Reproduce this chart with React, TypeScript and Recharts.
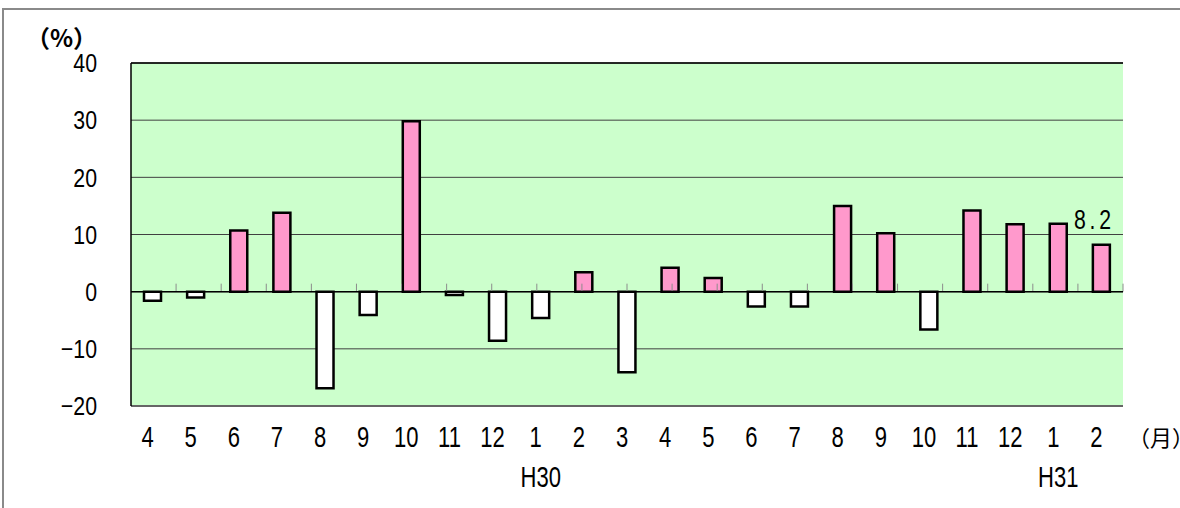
import {
  BarChart,
  Bar,
  XAxis,
  YAxis,
  CartesianGrid,
  ReferenceLine,
  Cell,
  LabelList,
} from 'recharts';

// month labels along the bottom, with the era under each January
const months = ['4', '5', '6', '7', '8', '9', '10', '11', '12', '1', '2', '3', '4', '5', '6', '7', '8', '9', '10', '11', '12', '1', '2'];
const eras = ['', '', '', '', '', '', '', '', '', 'H30', '', '', '', '', '', '', '', '', '', '', '', 'H31', ''];

// year-on-year change (%)
const rates = [-1.6, -1.0, 10.7, 13.8, -16.9, -4.1, 29.8, -0.6, -8.6, -4.6, 3.4, -14.1, 4.2, 2.4, -2.6, -2.6, 15.0, 10.2, -6.6, 14.2, 11.8, 11.9, 8.2];
const callouts = [null, null, null, null, null, null, null, null, null, null, null, null, null, null, null, null, null, null, null, null, null, null, '8.2'];

const yTicks = [-20, -10, 0, 10, 20, 30, 40];

const data = months.map((m, i) => ({ month: m, rate: rates[i], label: callouts[i] }));
// small marks between months on the zero line
const boundaries = months.slice(1).map((_, i) => i + 1);

const NUM_FONT = '"Liberation Sans", Arial, sans-serif';
const JP_FONT = '"Noto Sans CJK JP", sans-serif';

// tall, narrow digits like the original gothic font
function Narrow({ x, y, anchor = 'middle', size = 28, squeeze = 0.76, spacing = 0, children }: any) {
  return (
    <text
      transform={`translate(${x},${y}) scale(${squeeze},1)`}
      textAnchor={anchor}
      dominantBaseline="central"
      fontFamily={NUM_FONT}
      fontSize={size}
      letterSpacing={spacing}
      fill="#000"
    >
      {children}
    </text>
  );
}

function MonthTick(props: any) {
  const { x, y, payload, index } = props;
  const era = eras[index];
  return (
    <g>
      <Narrow x={x - 5} y={y + 31} size={29}>
        {payload.value}
      </Narrow>
      {era && (
        <Narrow x={x} y={y + 71} size={29}>
          {era}
        </Narrow>
      )}
    </g>
  );
}

function ValueTick(props: any) {
  const { x, y, payload } = props;
  return (
    <Narrow x={x} y={y} anchor="end" size={26} squeeze={0.82}>
      {String(payload.value).replace('-', '−')}
    </Narrow>
  );
}

function Callout(props: any) {
  const { x, y, width, value } = props;
  if (value == null) return null;
  return (
    <Narrow x={x + width / 2 - 7} y={y - 26} size={28} spacing={5}>
      {value}
    </Narrow>
  );
}

export default function App() {
  return (
    <div style={{ position: 'absolute', left: 0, top: 0, width: 1180, height: 508, overflow: 'hidden', background: '#fff' }}>
      <div
        style={{
          position: 'absolute',
          left: 2,
          top: 8,
          width: 1300,
          height: 600,
          border: '2px solid #8a8a8a',
        }}
      />
      <div
        style={{
          position: 'absolute',
          left: 26,
          top: 27,
          fontFamily: JP_FONT,
          fontSize: 24,
          fontWeight: 'bold',
          lineHeight: '20px',
        }}
      >
        （%）
      </div>
      <div style={{ position: 'absolute', left: 1128, top: 425, fontFamily: JP_FONT, fontSize: 22, lineHeight: '22px' }}>
        （月）
      </div>
      <BarChart
        width={1180}
        height={508}
        data={data}
        margin={{ top: 63, right: 57, bottom: 12, left: 0 }}
        barSize={17}
        style={{ position: 'absolute', left: 0, top: 0 }}
      >
        <CartesianGrid vertical={false} fill="#CCFFCC" stroke="#404040" strokeOpacity={1} />
        <XAxis
          dataKey="month"
          height={90}
          tickLine={false}
          tickSize={0}
          tickMargin={0}
          interval={0}
          axisLine={{ stroke: '#666', strokeWidth: 2 }}
          tick={<MonthTick />}
        />
        <XAxis xAxisId="n" type="number" domain={[0, 23]} allowDataOverflow hide />
        <YAxis
          width={131}
          domain={[-20, 40]}
          ticks={yTicks}
          interval={0}
          tickLine={false}
          tickSize={0}
          tickMargin={34}
          axisLine={{ stroke: '#000', strokeWidth: 1.5 }}
          tick={<ValueTick />}
        />
        <ReferenceLine y={40} stroke="#000" strokeWidth={1.5} />
        <ReferenceLine xAxisId="n" x={23} stroke="#707070" strokeWidth={1.5} />
        {boundaries.map((b) => (
          <ReferenceLine
            key={b}
            xAxisId="n"
            segment={[
              { x: b, y: 0 },
              { x: b, y: 1.4 },
            ]}
            stroke="#8c8c8c"
          />
        ))}
        <ReferenceLine y={0} stroke="#000" strokeWidth={1.5} />
        <Bar dataKey="rate" stroke="#000" strokeWidth={2.5} isAnimationActive={false}>
          {data.map((d, i) => (
            <Cell key={i} fill={d.rate >= 0 ? '#FF99CC' : '#FFFFFF'} />
          ))}
          <LabelList dataKey="label" content={<Callout />} />
        </Bar>
      </BarChart>
    </div>
  );
}
